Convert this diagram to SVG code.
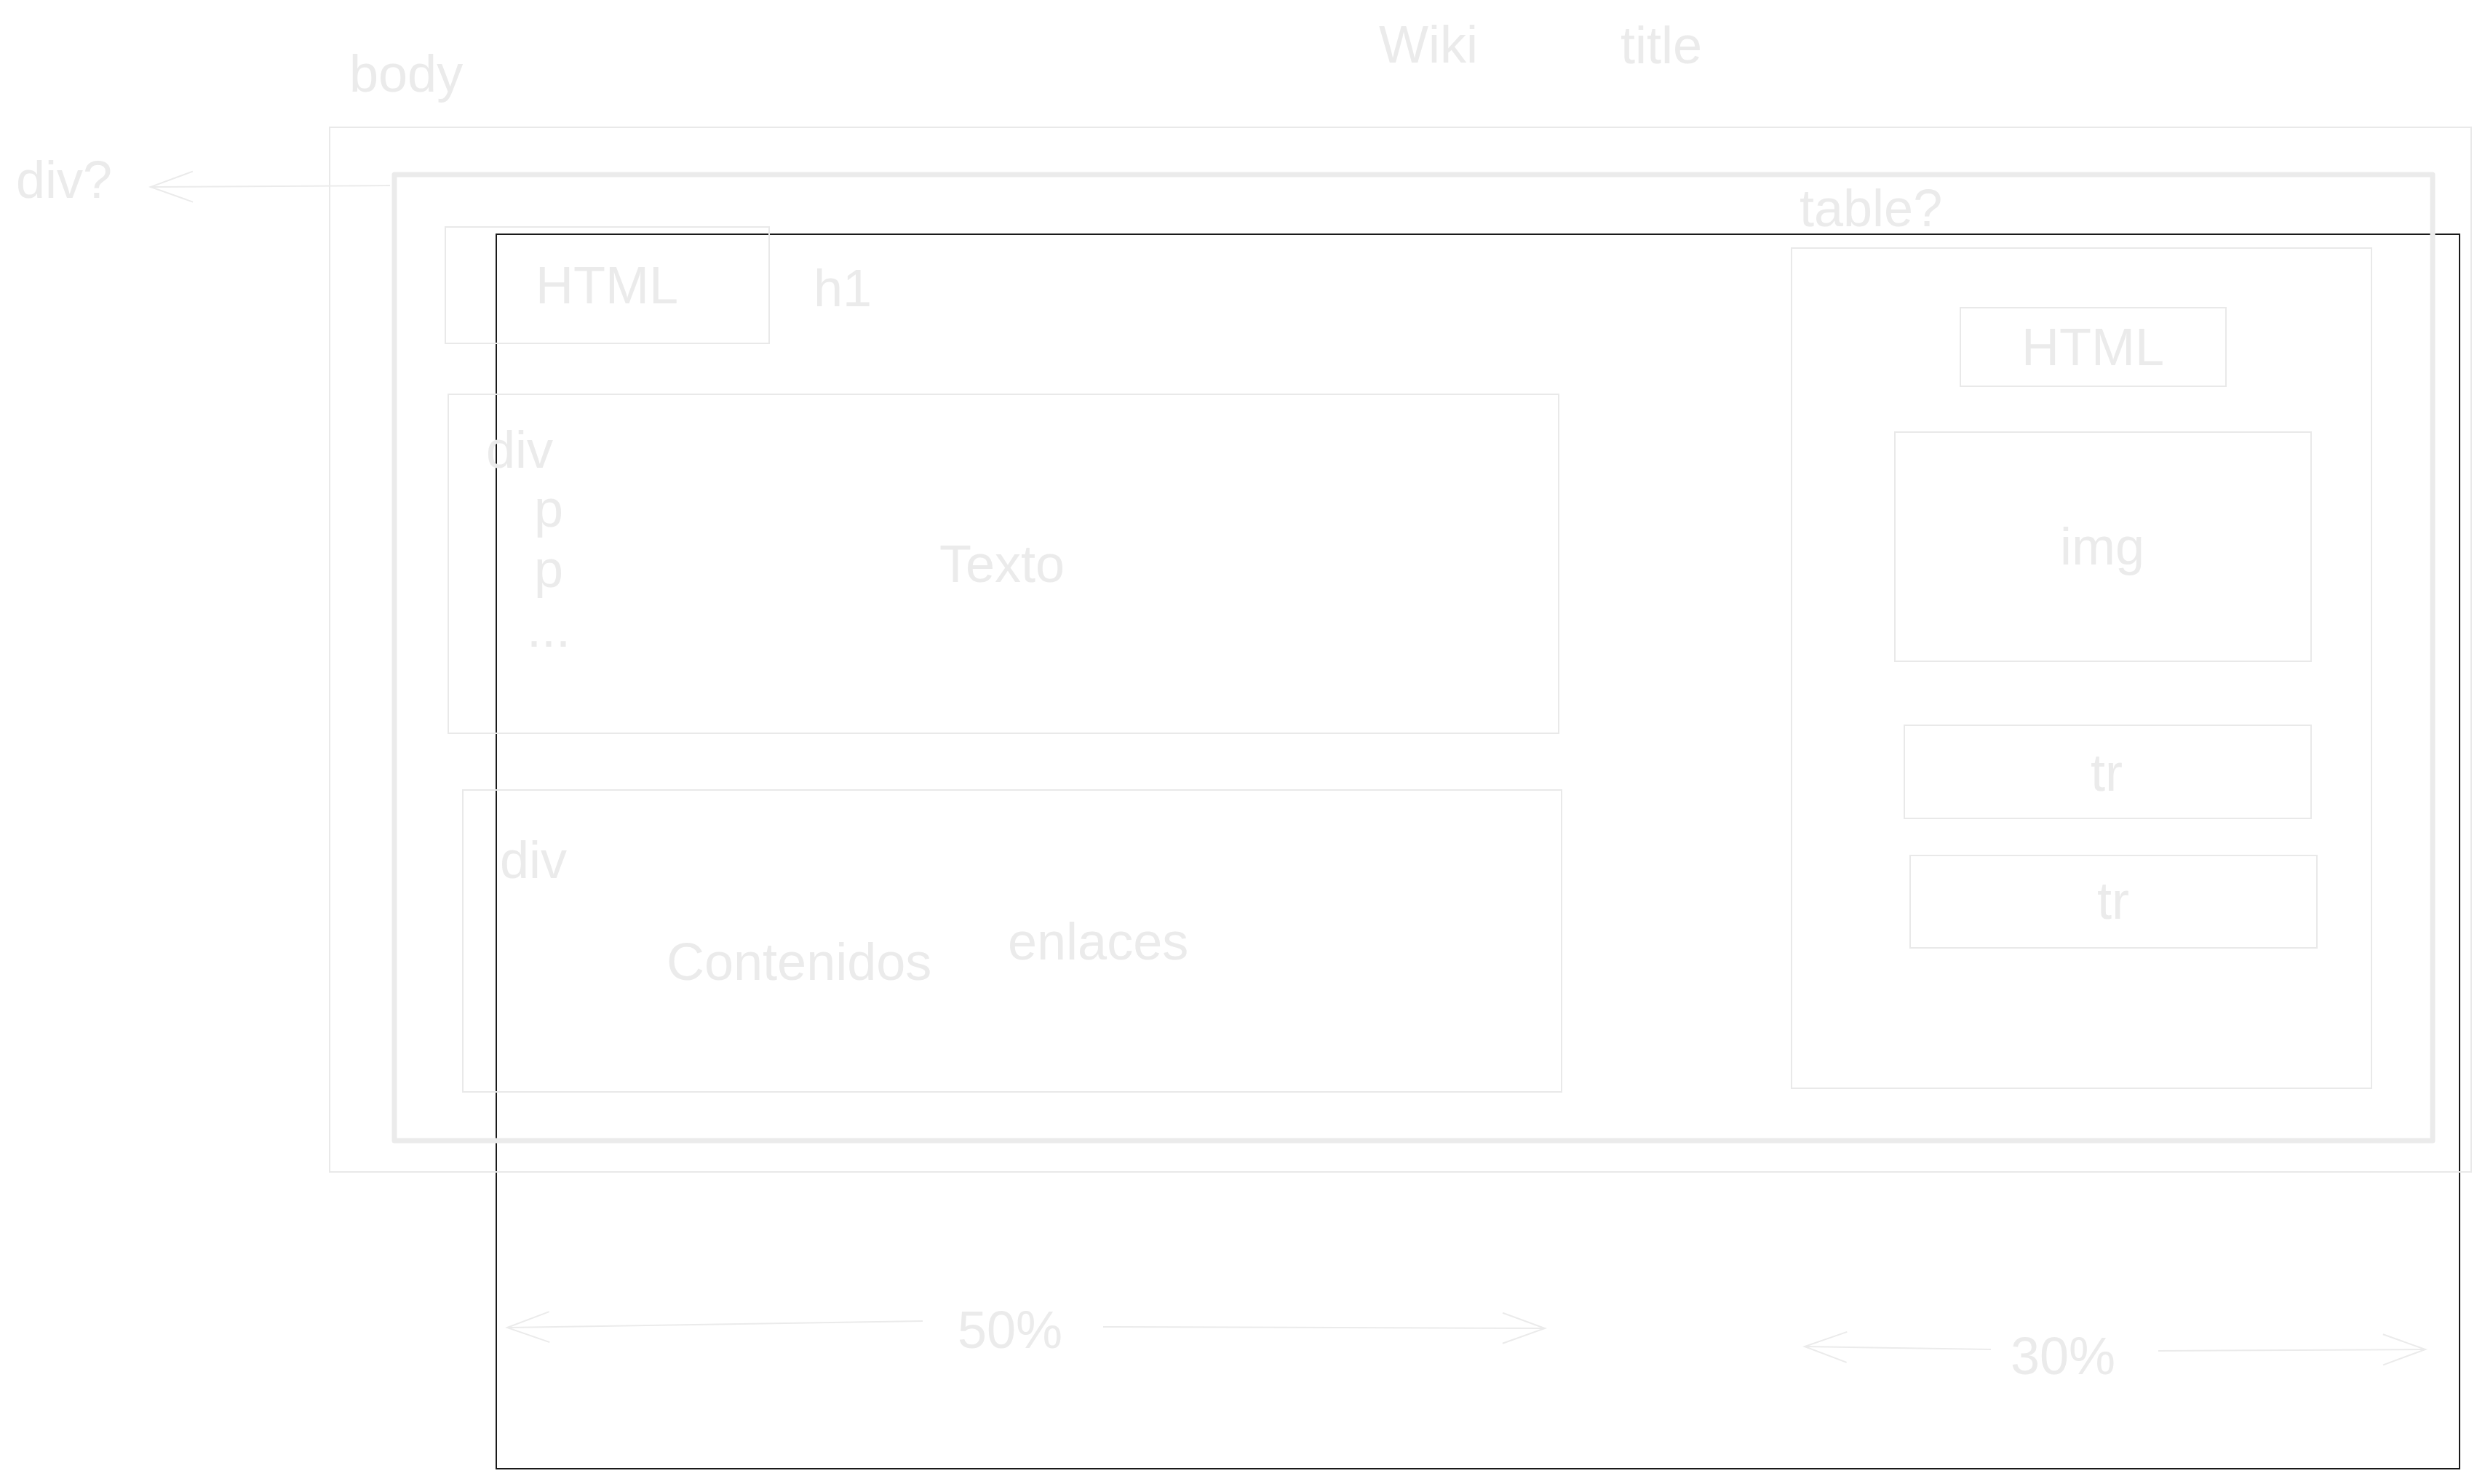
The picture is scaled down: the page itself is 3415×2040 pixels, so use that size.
<svg xmlns="http://www.w3.org/2000/svg" width="3415" height="2040" viewBox="0 0 3415 2040">
  <defs>
    <style>
      .lbl { font-family: "Liberation Sans", Arial, Helvetica, sans-serif; font-size: 72px; fill: #ebebeb; }
      .box { fill: none; stroke: #e9e9e9; stroke-width: 2; }
      .wrap { fill: none; stroke: #ebebeb; stroke-width: 7; stroke-linejoin: round; }
      .frame { fill: none; stroke: #1a1a1a; stroke-width: 2; }
      .conn { fill: none; stroke: #ebebeb; stroke-width: 2; marker-end: url(#openArrow); }
    </style>
    <!-- open V arrowhead shared by all dimension/pointer lines -->
    <marker id="openArrow" markerUnits="userSpaceOnUse" orient="auto" refX="0" refY="0"
            markerWidth="80" markerHeight="60" viewBox="-70 -30 80 60" overflow="visible">
      <path d="M -58 -21 L 0 0 L -58 21" fill="none" stroke="#ebebeb" stroke-width="2"/>
    </marker>
  </defs>

  <rect width="3415" height="2040" fill="#ffffff"/>

  <!-- page title -->
  <g id="title">
    <text class="lbl" x="1895" y="86">Wiki</text>
    <text class="lbl" x="2227" y="87">title</text>
  </g>

  <!-- 80% viewport frame -->
  <g id="frame">
    <rect class="frame" x="682" y="322" width="2698" height="1697"/>
  </g>

  <!-- body -->
  <g id="body">
    <rect class="box" x="453" y="175" width="2943" height="1436"/>
    <text class="lbl" x="480" y="126">body</text>
  </g>

  <!-- wrapper div -->
  <g id="wrapper">
    <rect class="wrap" x="542" y="240" width="2801" height="1328"/>
    <text class="lbl" x="22" y="272">div?</text>
  </g>

  <!-- h1 heading -->
  <g id="heading">
    <rect class="box" x="612" y="312" width="445" height="160"/>
    <text class="lbl" x="736" y="417">HTML</text>
    <text class="lbl" x="1118" y="421">h1</text>
  </g>

  <!-- text block -->
  <g id="texto">
    <rect class="box" x="616" y="542" width="1526" height="466"/>
    <text class="lbl" x="668" y="643">div</text>
    <text class="lbl" x="734" y="724">p</text>
    <text class="lbl" x="734" y="807">p</text>
    <text class="lbl" x="724" y="889">...</text>
    <text class="lbl" x="1291" y="800">Texto</text>
  </g>

  <!-- contents / links block -->
  <g id="contenidos">
    <rect class="box" x="636" y="1086" width="1510" height="415"/>
    <text class="lbl" x="687" y="1207">div</text>
    <text class="lbl" x="916" y="1347">Contenidos</text>
    <text class="lbl" x="1385" y="1319">enlaces</text>
  </g>

  <!-- side table -->
  <g id="table">
    <rect class="box" x="2462" y="341" width="797" height="1155"/>
    <text class="lbl" x="2473" y="311">table?</text>
  </g>

  <g id="table-html">
    <rect class="box" x="2694" y="423" width="365" height="108"/>
    <text class="lbl" x="2778" y="502">HTML</text>
  </g>

  <g id="table-img">
    <rect class="box" x="2604" y="594" width="572" height="315"/>
    <text class="lbl" x="2831" y="776">img</text>
  </g>

  <g id="table-tr1">
    <rect class="box" x="2617" y="997" width="559" height="128"/>
    <text class="lbl" x="2873" y="1087">tr</text>
  </g>

  <g id="table-tr2">
    <rect class="box" x="2625" y="1176" width="559" height="127"/>
    <text class="lbl" x="2882" y="1263">tr</text>
  </g>

  <!-- width annotations -->
  <g id="width-50">
    <text class="lbl" x="1316" y="1853">50%</text>
  </g>
  <g id="width-30">
    <text class="lbl" x="2763" y="1889">30%</text>
  </g>

  <!-- connectors -->
  <g id="connectors">
    <path class="conn" d="M 536 255 L 207 257"/>
    <path class="conn" d="M 1268 1816 L 697 1825"/>
    <path class="conn" d="M 1516 1824 L 2123 1826"/>
    <path class="conn" d="M 2736 1855 L 2480 1851"/>
    <path class="conn" d="M 2966 1857 L 3333 1855"/>
  </g>
</svg>
